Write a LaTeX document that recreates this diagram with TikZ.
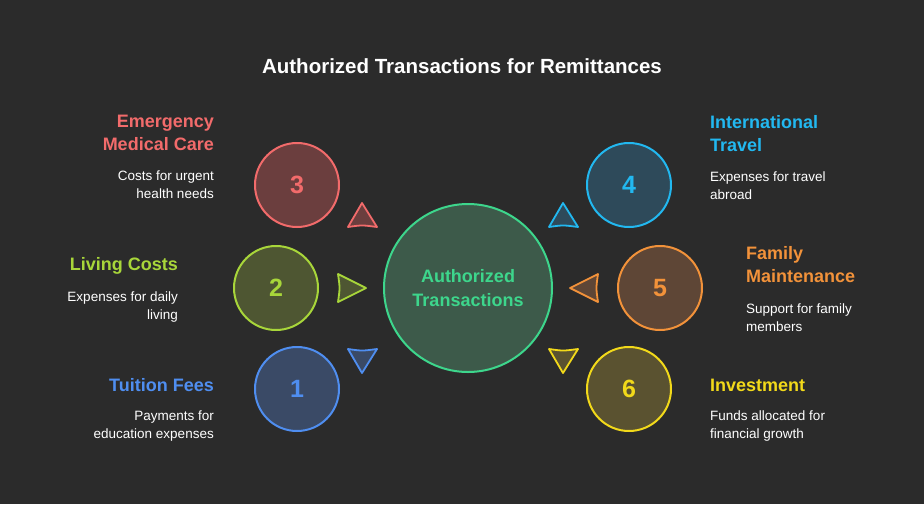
\documentclass[tikz,border=0pt]{standalone}
\usepackage{fontspec}
\setmainfont{Liberation Sans}
\begin{document}
\begin{tikzpicture}[x=1pt,y=-1pt,
  circ/.style={circle,line width=2pt,inner sep=0pt,minimum size=#1},
  num/.style={font=\bfseries\fontsize{25}{25}\selectfont},
  head/.style={font=\bfseries\fontsize{18}{23}\selectfont,inner sep=0pt},
  desc/.style={font=\fontsize{13.5}{17.5}\selectfont,text=white,inner sep=0pt},
  tri/.style={line width=1.8pt,line join=round}]
\definecolor{bg}{HTML}{2B2B2B}
\definecolor{cr}{HTML}{F26B6B}\definecolor{fr}{HTML}{6B3E3E}
\definecolor{cl}{HTML}{A8D63A}\definecolor{fl}{HTML}{4E5632}
\definecolor{cb}{HTML}{4F8EF0}\definecolor{fb}{HTML}{3A4A66}
\definecolor{cc}{HTML}{22B8F0}\definecolor{fc}{HTML}{2E4A5A}
\definecolor{co}{HTML}{F2923A}\definecolor{fo}{HTML}{5E4636}
\definecolor{cy}{HTML}{F2D91A}\definecolor{fy}{HTML}{5A5230}
\definecolor{cg}{HTML}{3DD68C}\definecolor{fg}{HTML}{3D5A4A}
\fill[bg] (0,0) rectangle (924,504);
\path[use as bounding box] (0,0) rectangle (924,504);
\node[font=\bfseries\fontsize{20.5}{24}\selectfont,text=white] (title) at (462,66) {Authorized Transactions for Remittances};
\node[circ=168pt,draw=cg,fill=fg,text=cg,align=center,font=\bfseries\fontsize{18}{24}\selectfont] (c) at (468,288) {Authorized\\Transactions};
\node[circ=84pt,draw=cr,fill=fr,text=cr,num] (n3) at (297,185) {3};
\node[circ=84pt,draw=cl,fill=fl,text=cl,num] (n2) at (276,288) {2};
\node[circ=84pt,draw=cb,fill=fb,text=cb,num] (n1) at (297,389) {1};
\node[circ=84pt,draw=cc,fill=fc,text=cc,num] (n4) at (629,185) {4};
\node[circ=84pt,draw=co,fill=fo,text=co,num] (n5) at (660,288) {5};
\node[circ=84pt,draw=cy,fill=fy,text=cy,num] (n6) at (629,389) {6};
\draw[tri,draw=cr,fill=fr] (362,203) -- (377,227) .. controls (362,225) .. (348,227) -- cycle;
\draw[tri,draw=cc,fill=fc] (563,203) -- (578,227) .. controls (563,225) .. (549,227) -- cycle;
\draw[tri,draw=cb,fill=fb] (362,373) -- (377,349) .. controls (362,351) .. (348,349) -- cycle;
\draw[tri,draw=cy,fill=fy] (563,373) -- (578,349) .. controls (563,351) .. (549,349) -- cycle;
\draw[tri,draw=cl,fill=fl] (366,288) -- (338,274) .. controls (340,288) .. (338,302) -- cycle;
\draw[tri,draw=co,fill=fo] (570,288) -- (598,274) .. controls (596,288) .. (598,302) -- cycle;
\node[head,text=cr,align=right,anchor=north east] (h3) at (214,115) {Emergency\\Medical Care};
\node[desc,align=right,anchor=north east] (d3) at (214,171) {Costs for urgent\\health needs};
\node[head,text=cl,anchor=east] (h2) at (178,266) {Living Costs};
\node[desc,align=right,anchor=north east] (d2) at (178,292) {Expenses for daily\\living};
\node[head,text=cb,anchor=east] (h1) at (214,385) {Tuition Fees};
\node[desc,align=right,anchor=north east] (d1) at (214,411) {Payments for\\education expenses};
\node[head,text=cc,align=left,anchor=north west] (h4) at (710,115) {International\\Travel};
\node[desc,align=left,anchor=north west] (d4) at (710,172) {Expenses for travel\\abroad};
\node[head,text=co,align=left,anchor=north west] (h5) at (746,246) {Family\\Maintenance};
\node[desc,align=left,anchor=north west] (d5) at (746,304) {Support for family\\members};
\node[head,text=cy,anchor=west] (h6) at (710,385) {Investment};
\node[desc,align=left,anchor=north west] (d6) at (710,411) {Funds allocated for\\financial growth};
\end{tikzpicture}
\end{document}
